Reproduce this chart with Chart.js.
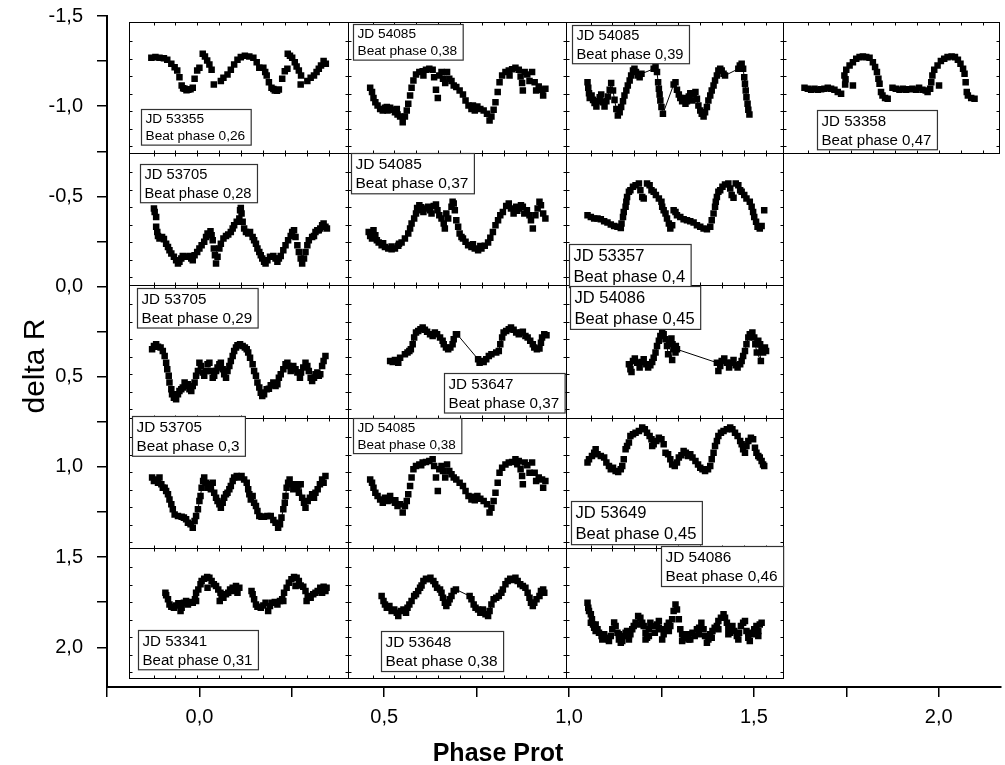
<!DOCTYPE html>
<html>
<head>
<meta charset="utf-8">
<script src="https://cdn.jsdelivr.net/npm/chart.js@4.4.1/dist/chart.umd.min.js"></script>
<style>
  html, body { margin: 0; padding: 0; background: #fff; }
  #wrap { width: 1005px; height: 765px; position: relative; }
</style>
</head>
<body>
<div id="wrap"><canvas id="chart"></canvas></div>
<script>
// light curves, [phase, delta R], already offset as in the original figure
const jd53355 = [[-0.130,-1.268],[-0.119,-1.272],[-0.108,-1.268],[-0.096,-1.266],[-0.087,-1.257],[-0.076,-1.235],[-0.067,-1.216],[-0.060,-1.198],[-0.054,-1.161],[-0.048,-1.115],[-0.044,-1.100],[-0.040,-1.096],[-0.035,-1.088],[-0.030,-1.091],[-0.024,-1.094],[-0.018,-1.102],[-0.013,-1.152],[-0.006,-1.198],[0.000,-1.213],[0.009,-1.291],[0.015,-1.276],[0.021,-1.253],[0.027,-1.231],[0.033,-1.202],[0.039,-1.120],[0.058,-1.139],[0.065,-1.157],[0.076,-1.176],[0.085,-1.202],[0.094,-1.231],[0.103,-1.257],[0.112,-1.272],[0.123,-1.279],[0.135,-1.276],[0.146,-1.268],[0.155,-1.244],[0.162,-1.213],[0.173,-1.213],[0.178,-1.190],[0.182,-1.170],[0.188,-1.133],[0.195,-1.102],[0.200,-1.095],[0.204,-1.087],[0.210,-1.085],[0.215,-1.093],[0.224,-1.152],[0.231,-1.194],[0.238,-1.207],[0.239,-1.291],[0.245,-1.279],[0.251,-1.268],[0.258,-1.244],[0.263,-1.220],[0.269,-1.198],[0.275,-1.170],[0.274,-1.120],[0.292,-1.139],[0.301,-1.157],[0.310,-1.170],[0.317,-1.189],[0.323,-1.207],[0.329,-1.226],[0.336,-1.250],[0.342,-1.235]];

const jd54085a = [[0.462,-1.102],[0.467,-1.078],[0.471,-1.046],[0.476,-1.022],[0.482,-1.004],[0.489,-0.985],[0.496,-0.976],[0.502,-0.991],[0.509,-0.976],[0.516,-0.991],[0.523,-0.980],[0.529,-0.967],[0.536,-0.954],[0.543,-0.943],[0.550,-0.911],[0.556,-0.943],[0.561,-0.976],[0.565,-1.013],[0.570,-1.059],[0.574,-1.102],[0.579,-1.143],[0.586,-1.176],[0.595,-1.189],[0.604,-1.194],[0.613,-1.202],[0.622,-1.207],[0.631,-1.202],[0.635,-1.161],[0.640,-1.091],[0.645,-1.046],[0.649,-1.170],[0.655,-1.189],[0.659,-1.152],[0.665,-1.128],[0.670,-1.189],[0.676,-1.152],[0.682,-1.139],[0.688,-1.115],[0.695,-1.106],[0.704,-1.087],[0.713,-1.065],[0.720,-1.032],[0.728,-1.004],[0.736,-0.985],[0.745,-0.976],[0.752,-0.998],[0.760,-0.985],[0.769,-0.976],[0.778,-0.958],[0.785,-0.921],[0.790,-0.943],[0.796,-0.980],[0.801,-1.022],[0.807,-1.078],[0.812,-1.133],[0.819,-1.170],[0.828,-1.189],[0.837,-1.198],[0.846,-1.205],[0.855,-1.213],[0.864,-1.202],[0.869,-1.165],[0.873,-1.128],[0.875,-1.087],[0.880,-1.189],[0.887,-1.176],[0.893,-1.139],[0.900,-1.189],[0.907,-1.133],[0.911,-1.087],[0.918,-1.109],[0.927,-1.091],[0.930,-1.059],[0.936,-1.096],[0.507,-0.995],[0.606,-1.170],[0.740,-1.004],[0.839,-1.170],[0.534,-0.985]];

const jd54085b = [[1.050,-1.133],[1.052,-1.102],[1.054,-1.072],[1.056,-1.046],[1.061,-1.059],[1.065,-1.035],[1.069,-1.017],[1.074,-0.998],[1.078,-1.028],[1.083,-1.050],[1.087,-1.065],[1.092,-1.022],[1.096,-0.998],[1.101,-1.028],[1.105,-1.054],[1.110,-1.091],[1.114,-1.128],[1.119,-1.087],[1.123,-1.035],[1.128,-0.985],[1.132,-0.948],[1.137,-0.967],[1.141,-0.995],[1.146,-1.028],[1.150,-1.059],[1.155,-1.087],[1.159,-1.115],[1.164,-1.143],[1.168,-1.170],[1.173,-1.198],[1.177,-1.207],[1.181,-1.189],[1.186,-1.170],[1.191,-1.161],[1.196,-1.180],[1.229,-1.207],[1.234,-1.220],[1.238,-1.189],[1.241,-1.133],[1.243,-1.096],[1.245,-1.065],[1.247,-1.032],[1.250,-0.995],[1.254,-0.958],[1.283,-1.120],[1.288,-1.133],[1.292,-1.091],[1.297,-1.065],[1.301,-1.046],[1.306,-1.028],[1.310,-1.046],[1.315,-1.013],[1.319,-1.028],[1.324,-1.054],[1.328,-1.072],[1.333,-1.032],[1.337,-1.065],[1.342,-1.078],[1.346,-1.041],[1.350,-1.004],[1.355,-0.976],[1.359,-0.958],[1.364,-0.943],[1.368,-0.967],[1.373,-0.995],[1.377,-1.032],[1.382,-1.059],[1.386,-1.087],[1.391,-1.115],[1.395,-1.143],[1.400,-1.170],[1.404,-1.198],[1.409,-1.207],[1.413,-1.198],[1.418,-1.180],[1.422,-1.170],[1.458,-1.207],[1.462,-1.226],[1.467,-1.235],[1.471,-1.207],[1.474,-1.161],[1.476,-1.124],[1.478,-1.087],[1.480,-1.050],[1.483,-1.013],[1.485,-0.980],[1.488,-0.954]];

const jd53358 = [[1.637,-1.102],[1.646,-1.096],[1.655,-1.091],[1.664,-1.096],[1.673,-1.091],[1.682,-1.094],[1.691,-1.096],[1.700,-1.102],[1.709,-1.096],[1.718,-1.091],[1.727,-1.078],[1.736,-1.069],[1.745,-1.170],[1.747,-1.120],[1.748,-1.150],[1.750,-1.202],[1.759,-1.226],[1.768,-1.244],[1.768,-1.115],[1.777,-1.263],[1.786,-1.272],[1.795,-1.276],[1.804,-1.272],[1.813,-1.268],[1.822,-1.244],[1.828,-1.217],[1.833,-1.189],[1.837,-1.152],[1.840,-1.124],[1.844,-1.078],[1.848,-1.059],[1.855,-1.046],[1.862,-1.041],[1.875,-1.102],[1.884,-1.096],[1.894,-1.091],[1.903,-1.096],[1.912,-1.091],[1.920,-1.094],[1.929,-1.096],[1.938,-1.091],[1.947,-1.102],[1.956,-1.091],[1.965,-1.087],[1.970,-1.078],[1.977,-1.096],[1.980,-1.133],[1.983,-1.170],[1.988,-1.202],[1.997,-1.226],[2.001,-1.115],[2.006,-1.250],[2.015,-1.263],[2.024,-1.272],[2.035,-1.276],[2.044,-1.272],[2.052,-1.257],[2.059,-1.235],[2.066,-1.207],[2.070,-1.180],[2.073,-1.133],[2.076,-1.078],[2.079,-1.059],[2.088,-1.046],[2.097,-1.041]];

const jd53705a = [[-0.123,-0.433],[-0.121,-0.414],[-0.117,-0.386],[-0.117,-0.331],[-0.114,-0.303],[-0.112,-0.281],[-0.108,-0.266],[-0.101,-0.275],[-0.096,-0.263],[-0.090,-0.238],[-0.085,-0.220],[-0.081,-0.202],[-0.076,-0.183],[-0.069,-0.165],[-0.063,-0.146],[-0.058,-0.128],[-0.054,-0.137],[-0.049,-0.155],[-0.045,-0.170],[-0.036,-0.165],[-0.027,-0.170],[-0.022,-0.155],[-0.018,-0.146],[-0.013,-0.174],[-0.006,-0.192],[0.000,-0.211],[0.006,-0.229],[0.013,-0.248],[0.018,-0.275],[0.022,-0.294],[0.030,-0.307],[0.033,-0.285],[0.036,-0.257],[0.039,-0.211],[0.042,-0.174],[0.045,-0.128],[0.049,-0.165],[0.054,-0.211],[0.058,-0.238],[0.065,-0.266],[0.072,-0.281],[0.078,-0.288],[0.085,-0.303],[0.090,-0.322],[0.094,-0.340],[0.101,-0.359],[0.108,-0.377],[0.110,-0.423],[0.112,-0.436],[0.114,-0.405],[0.117,-0.359],[0.121,-0.322],[0.126,-0.303],[0.132,-0.294],[0.137,-0.303],[0.144,-0.275],[0.148,-0.257],[0.153,-0.238],[0.157,-0.211],[0.162,-0.192],[0.166,-0.174],[0.170,-0.155],[0.175,-0.137],[0.179,-0.128],[0.184,-0.146],[0.191,-0.165],[0.200,-0.170],[0.206,-0.155],[0.211,-0.137],[0.215,-0.155],[0.220,-0.170],[0.227,-0.202],[0.233,-0.229],[0.240,-0.257],[0.247,-0.281],[0.251,-0.303],[0.256,-0.312],[0.260,-0.275],[0.265,-0.229],[0.269,-0.192],[0.274,-0.155],[0.278,-0.128],[0.283,-0.155],[0.287,-0.192],[0.292,-0.229],[0.296,-0.257],[0.305,-0.275],[0.310,-0.281],[0.314,-0.303],[0.319,-0.312],[0.323,-0.312],[0.327,-0.322],[0.332,-0.340],[0.336,-0.349],[0.341,-0.331],[0.345,-0.322]];

const jd54085c = [[0.458,-0.303],[0.462,-0.281],[0.467,-0.266],[0.471,-0.312],[0.476,-0.285],[0.480,-0.257],[0.485,-0.244],[0.493,-0.229],[0.502,-0.220],[0.511,-0.211],[0.520,-0.207],[0.529,-0.211],[0.538,-0.226],[0.547,-0.244],[0.556,-0.266],[0.565,-0.294],[0.570,-0.322],[0.574,-0.349],[0.581,-0.377],[0.586,-0.405],[0.589,-0.436],[0.595,-0.451],[0.601,-0.423],[0.606,-0.414],[0.613,-0.433],[0.619,-0.442],[0.624,-0.423],[0.628,-0.405],[0.634,-0.447],[0.640,-0.455],[0.644,-0.423],[0.649,-0.396],[0.655,-0.377],[0.661,-0.349],[0.664,-0.322],[0.668,-0.405],[0.673,-0.377],[0.682,-0.442],[0.685,-0.470],[0.688,-0.460],[0.691,-0.423],[0.695,-0.368],[0.700,-0.331],[0.704,-0.294],[0.709,-0.275],[0.713,-0.266],[0.720,-0.248],[0.727,-0.229],[0.736,-0.220],[0.745,-0.211],[0.754,-0.202],[0.763,-0.211],[0.772,-0.226],[0.781,-0.244],[0.787,-0.270],[0.794,-0.303],[0.801,-0.340],[0.808,-0.368],[0.814,-0.396],[0.821,-0.414],[0.830,-0.447],[0.837,-0.460],[0.843,-0.433],[0.850,-0.405],[0.857,-0.442],[0.864,-0.433],[0.870,-0.451],[0.875,-0.442],[0.879,-0.405],[0.886,-0.423],[0.893,-0.396],[0.897,-0.368],[0.902,-0.322],[0.909,-0.396],[0.915,-0.433],[0.920,-0.470],[0.924,-0.451],[0.930,-0.405],[0.936,-0.377],[0.497,-0.240],[0.520,-0.222],[0.540,-0.238],[0.600,-0.440],[0.740,-0.235],[0.760,-0.225],[0.860,-0.420]];

const jd53357 = [[1.050,-0.396],[1.059,-0.386],[1.068,-0.377],[1.077,-0.377],[1.086,-0.373],[1.095,-0.362],[1.104,-0.355],[1.113,-0.344],[1.122,-0.336],[1.131,-0.331],[1.140,-0.325],[1.142,-0.349],[1.146,-0.386],[1.148,-0.414],[1.153,-0.442],[1.155,-0.470],[1.157,-0.497],[1.162,-0.525],[1.166,-0.534],[1.173,-0.553],[1.180,-0.562],[1.189,-0.571],[1.193,-0.534],[1.198,-0.497],[1.202,-0.488],[1.211,-0.571],[1.218,-0.562],[1.223,-0.534],[1.229,-0.525],[1.235,-0.507],[1.243,-0.488],[1.250,-0.470],[1.252,-0.442],[1.256,-0.423],[1.261,-0.405],[1.265,-0.377],[1.270,-0.349],[1.274,-0.322],[1.279,-0.340],[1.283,-0.423],[1.288,-0.414],[1.292,-0.396],[1.301,-0.386],[1.310,-0.373],[1.319,-0.368],[1.328,-0.362],[1.337,-0.355],[1.346,-0.340],[1.355,-0.331],[1.364,-0.322],[1.373,-0.318],[1.382,-0.331],[1.386,-0.368],[1.391,-0.405],[1.395,-0.442],[1.397,-0.470],[1.400,-0.497],[1.404,-0.525],[1.409,-0.534],[1.415,-0.553],[1.422,-0.566],[1.431,-0.571],[1.436,-0.543],[1.440,-0.507],[1.445,-0.492],[1.451,-0.571],[1.458,-0.562],[1.463,-0.534],[1.467,-0.525],[1.474,-0.507],[1.480,-0.488],[1.489,-0.470],[1.494,-0.442],[1.498,-0.414],[1.501,-0.386],[1.506,-0.359],[1.510,-0.331],[1.516,-0.322],[1.521,-0.336],[1.528,-0.423]];

const jd53705b = [[-0.128,0.348],[-0.123,0.329],[-0.117,0.320],[-0.112,0.333],[-0.105,0.338],[-0.099,0.357],[-0.094,0.385],[-0.090,0.422],[-0.087,0.458],[-0.083,0.495],[-0.081,0.532],[-0.076,0.569],[-0.074,0.597],[-0.069,0.616],[-0.063,0.625],[-0.058,0.597],[-0.054,0.579],[-0.049,0.569],[-0.045,0.560],[-0.040,0.532],[-0.036,0.551],[-0.031,0.542],[-0.027,0.569],[-0.022,0.579],[-0.018,0.551],[-0.013,0.532],[-0.009,0.495],[-0.004,0.468],[0.000,0.422],[0.004,0.440],[0.009,0.477],[0.013,0.495],[0.018,0.468],[0.022,0.431],[0.027,0.422],[0.031,0.468],[0.036,0.505],[0.040,0.495],[0.045,0.468],[0.049,0.449],[0.054,0.431],[0.058,0.422],[0.063,0.458],[0.067,0.486],[0.072,0.505],[0.076,0.468],[0.081,0.440],[0.085,0.412],[0.090,0.385],[0.094,0.357],[0.099,0.338],[0.103,0.325],[0.110,0.320],[0.117,0.329],[0.123,0.338],[0.128,0.348],[0.132,0.366],[0.137,0.394],[0.144,0.431],[0.148,0.468],[0.153,0.495],[0.157,0.532],[0.162,0.560],[0.166,0.588],[0.170,0.606],[0.175,0.597],[0.182,0.569],[0.188,0.566],[0.193,0.547],[0.200,0.532],[0.206,0.551],[0.211,0.542],[0.215,0.505],[0.220,0.486],[0.227,0.458],[0.233,0.431],[0.238,0.422],[0.242,0.440],[0.247,0.468],[0.254,0.440],[0.260,0.458],[0.265,0.477],[0.272,0.505],[0.275,0.477],[0.281,0.449],[0.287,0.422],[0.292,0.440],[0.296,0.468],[0.301,0.505],[0.305,0.523],[0.310,0.505],[0.314,0.486],[0.319,0.477],[0.323,0.495],[0.327,0.486],[0.332,0.440],[0.336,0.412],[0.341,0.385]];

const jd53647 = [[0.516,0.412],[0.523,0.418],[0.529,0.407],[0.538,0.422],[0.543,0.394],[0.556,0.375],[0.563,0.366],[0.568,0.357],[0.572,0.348],[0.577,0.320],[0.581,0.283],[0.586,0.255],[0.592,0.246],[0.598,0.237],[0.604,0.227],[0.610,0.240],[0.616,0.251],[0.624,0.264],[0.631,0.274],[0.637,0.255],[0.643,0.264],[0.651,0.283],[0.658,0.301],[0.661,0.320],[0.667,0.338],[0.673,0.348],[0.679,0.338],[0.685,0.320],[0.688,0.292],[0.694,0.264],[0.697,0.264],[0.754,0.403],[0.758,0.422],[0.763,0.412],[0.769,0.418],[0.776,0.403],[0.783,0.385],[0.790,0.375],[0.803,0.366],[0.810,0.357],[0.814,0.320],[0.819,0.283],[0.823,0.255],[0.830,0.246],[0.837,0.237],[0.843,0.227],[0.850,0.240],[0.857,0.255],[0.864,0.264],[0.870,0.255],[0.875,0.251],[0.882,0.274],[0.888,0.283],[0.895,0.301],[0.902,0.320],[0.906,0.338],[0.913,0.348],[0.920,0.344],[0.924,0.311],[0.927,0.283],[0.933,0.264],[0.939,0.270]];

const jd54086a = [[1.162,0.431],[1.166,0.458],[1.169,0.473],[1.173,0.412],[1.178,0.399],[1.184,0.422],[1.191,0.449],[1.196,0.418],[1.202,0.403],[1.209,0.431],[1.214,0.449],[1.220,0.436],[1.225,0.418],[1.229,0.394],[1.234,0.366],[1.238,0.329],[1.243,0.301],[1.247,0.274],[1.252,0.255],[1.256,0.264],[1.261,0.292],[1.265,0.329],[1.268,0.375],[1.279,0.407],[1.271,0.311],[1.277,0.288],[1.280,0.320],[1.284,0.348],[1.288,0.366],[1.289,0.329],[1.292,0.348],[1.400,0.422],[1.404,0.468],[1.409,0.440],[1.413,0.412],[1.420,0.399],[1.427,0.422],[1.433,0.449],[1.438,0.422],[1.445,0.407],[1.451,0.436],[1.456,0.449],[1.463,0.431],[1.467,0.412],[1.471,0.385],[1.476,0.357],[1.480,0.320],[1.485,0.283],[1.489,0.264],[1.496,0.255],[1.501,0.283],[1.504,0.320],[1.508,0.366],[1.519,0.412],[1.512,0.301],[1.517,0.320],[1.521,0.348],[1.525,0.366],[1.530,0.338],[1.533,0.357]];

const jd53705c = [[-0.128,1.059],[-0.123,1.078],[-0.117,1.069],[-0.112,1.087],[-0.108,1.059],[-0.103,1.096],[-0.099,1.115],[-0.094,1.115],[-0.090,1.133],[-0.085,1.152],[-0.081,1.180],[-0.076,1.207],[-0.072,1.235],[-0.067,1.263],[-0.058,1.272],[-0.048,1.276],[-0.042,1.281],[-0.036,1.290],[-0.031,1.309],[-0.024,1.318],[-0.018,1.337],[-0.013,1.300],[-0.009,1.272],[-0.004,1.235],[0.000,1.189],[0.003,1.161],[0.006,1.115],[0.010,1.078],[0.013,1.059],[0.018,1.087],[0.022,1.115],[0.027,1.096],[0.031,1.124],[0.036,1.087],[0.040,1.143],[0.045,1.171],[0.049,1.189],[0.054,1.207],[0.058,1.226],[0.063,1.198],[0.067,1.171],[0.072,1.152],[0.076,1.143],[0.081,1.124],[0.085,1.106],[0.090,1.078],[0.094,1.059],[0.101,1.050],[0.108,1.059],[0.114,1.050],[0.121,1.069],[0.128,1.087],[0.132,1.124],[0.135,1.152],[0.139,1.180],[0.144,1.161],[0.148,1.198],[0.153,1.217],[0.157,1.244],[0.162,1.272],[0.168,1.276],[0.175,1.276],[0.184,1.272],[0.193,1.272],[0.200,1.294],[0.206,1.309],[0.213,1.337],[0.218,1.318],[0.222,1.281],[0.227,1.235],[0.231,1.198],[0.233,1.161],[0.236,1.115],[0.240,1.087],[0.244,1.069],[0.249,1.096],[0.254,1.124],[0.258,1.096],[0.265,1.115],[0.269,1.143],[0.274,1.096],[0.278,1.171],[0.283,1.198],[0.287,1.226],[0.293,1.189],[0.299,1.171],[0.305,1.152],[0.310,1.171],[0.314,1.143],[0.320,1.124],[0.326,1.096],[0.332,1.069],[0.336,1.087],[0.341,1.050]];

const jd54085d = [[0.462,1.069],[0.467,1.087],[0.471,1.115],[0.476,1.143],[0.482,1.161],[0.489,1.180],[0.496,1.198],[0.502,1.171],[0.509,1.189],[0.516,1.161],[0.523,1.184],[0.529,1.198],[0.536,1.217],[0.543,1.207],[0.550,1.253],[0.556,1.217],[0.561,1.189],[0.565,1.152],[0.570,1.106],[0.574,1.059],[0.579,1.013],[0.586,0.995],[0.595,0.986],[0.604,0.976],[0.613,0.973],[0.622,0.967],[0.631,0.958],[0.635,0.995],[0.640,1.059],[0.645,1.133],[0.649,1.013],[0.655,0.995],[0.659,1.022],[0.665,1.059],[0.670,0.986],[0.676,1.022],[0.682,1.041],[0.688,1.059],[0.695,1.069],[0.704,1.087],[0.713,1.106],[0.720,1.133],[0.728,1.161],[0.736,1.180],[0.745,1.184],[0.752,1.161],[0.760,1.176],[0.769,1.189],[0.778,1.207],[0.785,1.253],[0.790,1.226],[0.796,1.189],[0.801,1.143],[0.807,1.087],[0.812,1.032],[0.819,1.004],[0.828,0.986],[0.837,0.976],[0.846,0.973],[0.855,0.958],[0.864,0.967],[0.869,1.013],[0.873,1.050],[0.875,1.096],[0.880,0.976],[0.887,0.991],[0.893,1.032],[0.900,0.976],[0.907,1.032],[0.911,1.078],[0.918,1.059],[0.927,1.069],[0.930,1.115],[0.936,1.078],[0.505,1.185],[0.530,1.185],[0.600,0.990],[0.740,1.165],[0.860,0.985]];

const jd53649 = [[1.050,0.976],[1.054,0.958],[1.062,0.939],[1.068,0.921],[1.072,0.902],[1.077,0.930],[1.086,0.939],[1.095,0.948],[1.101,0.976],[1.108,0.995],[1.113,1.013],[1.119,1.004],[1.126,1.022],[1.133,1.028],[1.140,1.013],[1.144,0.995],[1.148,0.958],[1.153,0.902],[1.157,0.884],[1.162,0.865],[1.166,0.828],[1.173,0.819],[1.180,0.810],[1.189,0.801],[1.198,0.782],[1.205,0.791],[1.211,0.810],[1.218,0.828],[1.223,0.847],[1.225,0.884],[1.229,0.874],[1.236,0.856],[1.243,0.838],[1.250,0.847],[1.256,0.874],[1.261,0.921],[1.268,0.930],[1.274,0.958],[1.279,0.986],[1.286,0.995],[1.292,0.976],[1.297,0.948],[1.304,0.935],[1.310,0.911],[1.316,0.921],[1.322,0.939],[1.328,0.930],[1.334,0.948],[1.342,0.967],[1.349,0.986],[1.355,1.004],[1.361,1.013],[1.368,1.022],[1.376,1.013],[1.382,0.995],[1.386,0.958],[1.391,0.921],[1.395,0.884],[1.400,0.856],[1.404,0.828],[1.411,0.810],[1.418,0.801],[1.427,0.791],[1.436,0.782],[1.442,0.791],[1.449,0.810],[1.456,0.828],[1.463,0.856],[1.467,0.874],[1.471,0.902],[1.476,0.921],[1.480,0.884],[1.485,0.856],[1.492,0.838],[1.498,0.847],[1.503,0.893],[1.507,0.921],[1.512,0.939],[1.516,0.948],[1.521,0.967],[1.525,0.986],[1.528,0.995]];

const jd53341 = [[-0.092,1.697],[-0.090,1.712],[-0.085,1.734],[-0.081,1.762],[-0.076,1.775],[-0.069,1.780],[-0.063,1.768],[-0.057,1.756],[-0.051,1.799],[-0.048,1.780],[-0.042,1.753],[-0.036,1.743],[-0.031,1.762],[-0.024,1.749],[-0.018,1.753],[-0.012,1.734],[-0.009,1.743],[-0.009,1.697],[-0.003,1.679],[0.003,1.651],[0.006,1.632],[0.013,1.620],[0.021,1.610],[0.027,1.614],[0.033,1.632],[0.039,1.651],[0.022,1.670],[0.045,1.660],[0.051,1.679],[0.057,1.697],[0.060,1.716],[0.055,1.743],[0.065,1.725],[0.072,1.706],[0.078,1.697],[0.083,1.679],[0.090,1.670],[0.099,1.660],[0.108,1.670],[0.103,1.697],[0.094,1.688],[0.141,1.688],[0.144,1.706],[0.148,1.734],[0.153,1.762],[0.157,1.775],[0.166,1.780],[0.173,1.768],[0.179,1.753],[0.186,1.799],[0.191,1.771],[0.197,1.753],[0.204,1.749],[0.211,1.762],[0.218,1.743],[0.224,1.734],[0.227,1.743],[0.229,1.697],[0.236,1.670],[0.242,1.642],[0.249,1.623],[0.256,1.610],[0.263,1.614],[0.269,1.632],[0.274,1.657],[0.260,1.660],[0.281,1.664],[0.287,1.688],[0.293,1.716],[0.290,1.743],[0.301,1.725],[0.308,1.706],[0.314,1.697],[0.320,1.688],[0.327,1.670],[0.336,1.664],[0.344,1.670],[0.341,1.688],[0.332,1.697]];

const jd53648 = [[0.493,1.716],[0.498,1.743],[0.502,1.762],[0.507,1.780],[0.514,1.771],[0.520,1.799],[0.527,1.790],[0.534,1.808],[0.538,1.827],[0.545,1.799],[0.552,1.790],[0.559,1.808],[0.563,1.780],[0.568,1.762],[0.574,1.743],[0.581,1.716],[0.586,1.706],[0.592,1.688],[0.597,1.670],[0.601,1.657],[0.606,1.632],[0.613,1.620],[0.619,1.623],[0.625,1.614],[0.633,1.632],[0.638,1.651],[0.643,1.670],[0.651,1.679],[0.655,1.697],[0.659,1.725],[0.664,1.753],[0.668,1.771],[0.673,1.753],[0.677,1.734],[0.682,1.716],[0.688,1.688],[0.694,1.679],[0.731,1.716],[0.736,1.734],[0.742,1.762],[0.747,1.780],[0.754,1.790],[0.760,1.808],[0.767,1.790],[0.774,1.817],[0.781,1.827],[0.785,1.799],[0.790,1.762],[0.796,1.734],[0.803,1.725],[0.810,1.716],[0.817,1.697],[0.821,1.679],[0.828,1.651],[0.834,1.632],[0.841,1.620],[0.848,1.627],[0.855,1.614],[0.861,1.632],[0.868,1.651],[0.875,1.660],[0.882,1.670],[0.888,1.697],[0.893,1.725],[0.897,1.753],[0.902,1.771],[0.906,1.753],[0.912,1.734],[0.920,1.716],[0.924,1.688],[0.930,1.679],[0.933,1.697]];

const jd54086b = [[1.050,1.753],[1.052,1.780],[1.054,1.799],[1.059,1.817],[1.062,1.845],[1.065,1.873],[1.068,1.891],[1.072,1.873],[1.077,1.900],[1.081,1.919],[1.088,1.937],[1.095,1.928],[1.099,1.947],[1.106,1.956],[1.113,1.937],[1.117,1.900],[1.122,1.863],[1.126,1.882],[1.131,1.919],[1.135,1.956],[1.140,1.975],[1.144,1.965],[1.148,1.937],[1.153,1.919],[1.157,1.910],[1.162,1.937],[1.166,1.928],[1.171,1.900],[1.175,1.882],[1.180,1.863],[1.187,1.827],[1.193,1.836],[1.198,1.864],[1.202,1.882],[1.207,1.919],[1.211,1.947],[1.216,1.900],[1.220,1.864],[1.227,1.882],[1.232,1.919],[1.238,1.873],[1.243,1.854],[1.247,1.900],[1.252,1.956],[1.256,1.928],[1.261,1.900],[1.265,1.882],[1.270,1.864],[1.274,1.882],[1.279,1.845],[1.283,1.799],[1.288,1.762],[1.292,1.790],[1.297,1.845],[1.301,1.900],[1.306,1.928],[1.310,1.947],[1.315,1.937],[1.322,1.928],[1.328,1.956],[1.334,1.919],[1.340,1.937],[1.346,1.900],[1.352,1.891],[1.358,1.864],[1.364,1.900],[1.368,1.937],[1.373,1.975],[1.377,1.956],[1.382,1.928],[1.388,1.910],[1.394,1.891],[1.400,1.882],[1.404,1.854],[1.411,1.836],[1.418,1.817],[1.422,1.836],[1.427,1.864],[1.431,1.891],[1.436,1.919],[1.442,1.882],[1.447,1.910],[1.454,1.937],[1.460,1.919],[1.465,1.882],[1.471,1.864],[1.476,1.854],[1.480,1.910],[1.485,1.947],[1.489,1.965],[1.496,1.928],[1.501,1.900],[1.507,1.882],[1.512,1.910],[1.516,1.873],[1.521,1.864],[1.072,1.910],[1.090,1.956],[1.108,1.965],[1.135,1.928],[1.162,1.956],[1.189,1.873],[1.216,1.937],[1.243,1.891],[1.270,1.910],[1.306,1.965],[1.323,1.956],[1.351,1.928],[1.386,1.947],[1.404,1.900],[1.431,1.928],[1.458,1.956],[1.485,1.919],[1.512,1.937],[1.059,1.864],[1.207,1.956]];

// panel order: row by row, left to right
const series = [jd53355, jd54085a, jd54085b, jd53358, jd53705a, jd54085c, jd53357, jd53705b, jd53647, jd54086a, jd53705c, jd54085d, jd53649, jd53341, jd53648, jd54086b];
const jdLabels = ['JD 53355', 'JD 54085', 'JD 54085', 'JD 53358', 'JD 53705', 'JD 54085', 'JD 53357', 'JD 53705', 'JD 53647', 'JD 54086', 'JD 53705', 'JD 54085', 'JD 53649', 'JD 53341', 'JD 53648', 'JD 54086'];
const beatLabels = ['Beat phase 0,26', 'Beat phase 0,38', 'Beat phase 0,39', 'Beat phase 0,47', 'Beat phase 0,28', 'Beat phase 0,37', 'Beat phase 0,4', 'Beat phase 0,29', 'Beat phase 0,37', 'Beat phase 0,45', 'Beat phase 0,3', 'Beat phase 0,38', 'Beat phase 0,45', 'Beat phase 0,31', 'Beat phase 0,38', 'Beat phase 0,46'];
const joined = [false, false, true, false, false, false, false, false, true, true, true, false, false, false, true, false];

// panel grid (axis units)
const colEdges = [-0.191, 0.401, 0.991, 1.580, 2.164];
const rowEdges = [-1.464, -0.738, -0.006, 0.727, 1.448, 2.169];
const panelCol = [0, 1, 2, 3, 0, 1, 2, 0, 1, 2, 0, 1, 2, 0, 1, 2];
const panelRow = [0, 0, 0, 0, 1, 1, 1, 2, 2, 2, 3, 3, 3, 4, 4, 4];

// label box anchors (top-left, axis units) and font sizes
const labelX = [-0.159, 0.415, 1.009, 1.672, -0.162, 0.410, 1.001, -0.170, 0.661, 1.002, -0.182, 0.415, 1.005, -0.166, 0.491, 1.248];
const labelY = [-0.986, -1.457, -1.448, -0.980, -0.682, -0.738, -0.238, 0.006, 0.481, -0.004, 0.717, 0.727, 1.189, 1.904, 1.910, 1.438];
const labelSize = [13.7, 13.7, 14.7, 15.1, 14.7, 15.5, 16.6, 15.2, 15.2, 16.5, 15.3, 13.5, 16.6, 15.1, 15.4, 15.4];

const FONT = '"Liberation Sans", Arial, Helvetica, sans-serif';

function fmt(v) {
    const h = v * 2;
    if (Math.abs(h - Math.round(h)) > 1e-6) return '';
    return (Math.round(h) / 2).toFixed(1).replace('.', ',');
}

const panelPlugin = {
    id: 'panels',
    beforeDatasetsDraw(chart) {
        const {ctx, scales: {x, y}} = chart;
        const px = v => Math.round(x.getPixelForValue(v)) + 0.5;
        const py = v => Math.round(y.getPixelForValue(v)) + 0.5;
        ctx.save();
        ctx.strokeStyle = '#000';
        ctx.lineWidth = 1;
        for (let i = 0; i < series.length; i++) {
            const l = px(colEdges[panelCol[i]]), r = px(colEdges[panelCol[i] + 1]);
            const t = py(rowEdges[panelRow[i]]), b = py(rowEdges[panelRow[i] + 1]);
            ctx.strokeRect(l, t, r - l, b - t);
            // small inward ticks
            ctx.beginPath();
            for (let k = 0; k < 9; k++) {
                const tx = Math.round(l + 24 + k * 21.9) + 0.5;
                if (tx >= r - 2) break;
                ctx.moveTo(tx, t); ctx.lineTo(tx, t + 3);
                ctx.moveTo(tx, b); ctx.lineTo(tx, b - 3);
            }
            for (let k = 1; k < 8; k++) {
                const ty = Math.round(t + 1.3 + k * 17.5) + 0.5;
                if (ty >= b - 2) break;
                ctx.moveTo(l, ty); ctx.lineTo(l + 3, ty);
                ctx.moveTo(r, ty); ctx.lineTo(r - 3, ty);
            }
            ctx.stroke();
        }
        ctx.restore();
    },
    afterDatasetsDraw(chart) {
        const {ctx, scales: {x, y}} = chart;
        ctx.save();
        for (let i = 0; i < series.length; i++) {
            const f = labelSize[i];
            ctx.font = f + 'px ' + FONT;
            const w = Math.max(ctx.measureText(jdLabels[i]).width, ctx.measureText(beatLabels[i]).width) + 10;
            const h = 2.6 * f;
            const l = Math.round(x.getPixelForValue(labelX[i])) + 0.5;
            const t = Math.round(y.getPixelForValue(labelY[i])) + 0.5;
            ctx.fillStyle = '#fff';
            ctx.fillRect(l, t, w, h);
            ctx.strokeStyle = '#333';
            ctx.lineWidth = 1.2;
            ctx.strokeRect(l, t, w, h);
            ctx.fillStyle = '#000';
            ctx.textBaseline = 'middle';
            ctx.textAlign = 'left';
            ctx.fillText(jdLabels[i], l + 4, t + 0.72 * f);
            ctx.fillText(beatLabels[i], l + 4, t + 1.98 * f);
        }
        ctx.restore();
    },
    afterDraw(chart) {
        const {ctx} = chart;
        ctx.save();
        ctx.fillStyle = '#000';
        ctx.textAlign = 'center';
        ctx.textBaseline = 'alphabetic';
        ctx.font = 'bold 25px ' + FONT;
        ctx.fillText('Phase Prot', 498, 761);
        ctx.translate(44, 366);
        ctx.rotate(-Math.PI / 2);
        ctx.font = '30px ' + FONT;
        ctx.fillText('delta R', 0, 0);
        ctx.restore();
    }
};

const datasets = series.map((pts, i) => ({
    label: jdLabels[i] + ' ' + beatLabels[i],
    data: pts.map(p => ({x: p[0], y: p[1]})),
    showLine: joined[i],
    borderColor: '#000',
    borderWidth: 1,
    backgroundColor: '#000',
    pointStyle: 'rect',
    pointRadius: 4.6,
    pointHoverRadius: 4.6,
    pointBorderWidth: 0
}));

const axisStyle = {
    border: {display: true, color: '#000', width: 2},
    grid: {drawOnChartArea: false, drawTicks: true, tickLength: 10, color: '#000', lineWidth: 1.5}
};

new Chart(document.getElementById('chart'), {
    type: 'scatter',
    data: {datasets: datasets},
    plugins: [panelPlugin],
    options: {
        responsive: true,
        maintainAspectRatio: false,
        animation: false,
        devicePixelRatio: 1,
        layout: {padding: {top: 16, right: 0, bottom: 0, left: 0}},
        plugins: {legend: {display: false}, tooltip: {enabled: false}},
        scales: {
            x: Object.assign({
                type: 'linear', min: -0.25, max: 2.167,
                afterFit: s => { s.height = 78; s.paddingLeft = 0; s.paddingRight = 0; },
                ticks: {stepSize: 0.25, autoSkip: false, includeBounds: false, maxRotation: 0, padding: 8,
                        color: '#000', font: {family: FONT, size: 20}, callback: fmt}
            }, axisStyle),
            y: Object.assign({
                type: 'linear', reverse: true, min: -1.5, max: 2.22,
                afterFit: s => { s.width = 107; s.paddingTop = 0; s.paddingBottom = 0; },
                ticks: {stepSize: 0.25, autoSkip: false, includeBounds: false, padding: 14,
                        color: '#000', font: {family: FONT, size: 20}, callback: fmt}
            }, axisStyle)
        }
    }
});
</script>
</body>
</html>
